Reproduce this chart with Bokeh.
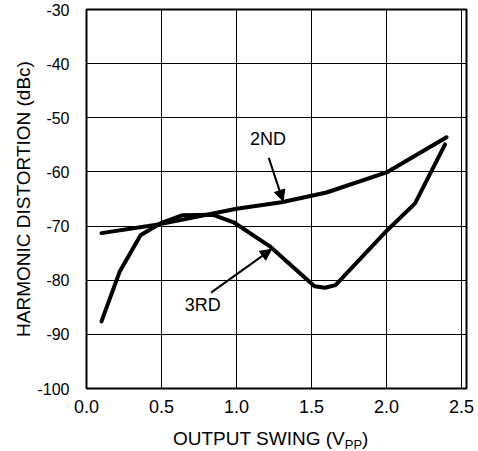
from bokeh.plotting import figure
from bokeh.layouts import column
from bokeh.models import (Range1d, FixedTicker, PrintfTickFormatter, Label, Arrow, NormalHead, Div)
from bokeh.embed import file_html
from bokeh.resources import INLINE

# Data
x_2nd = [0.1, 0.5, 1.0, 1.3, 1.6, 2.0, 2.4]
y_2nd = [-71.3, -69.6, -66.8, -65.6, -63.8, -60.1, -53.6]

x_3rd = [0.1, 0.22, 0.36, 0.5, 0.64, 0.84, 0.98, 1.22, 1.35, 1.52, 1.59, 1.66, 2.0, 2.19, 2.39]
y_3rd = [-87.6, -78.5, -71.7, -69.4, -68.0, -67.9, -69.3, -73.7, -76.9, -81.1, -81.4, -80.9, -70.9, -65.8, -54.9]

x_ticks = [0.0, 0.5, 1.0, 1.5, 2.0, 2.5]
y_ticks = [-100, -90, -80, -70, -60, -50, -40, -30]

FONT = "Liberation Sans"

p = figure(width=474, height=420, output_backend="svg", toolbar_location=None,
           x_range=Range1d(0, 2.533), y_range=Range1d(-100, -30),
           min_border_left=86, min_border_right=8, min_border_top=9, min_border_bottom=32)

p.outline_line_color = "black"
p.outline_line_width = 2
p.background_fill_color = "white"
p.border_fill_color = "white"

for ax in (p.xaxis[0], p.yaxis[0]):
    ax.axis_line_color = None
    ax.major_tick_line_color = None
    ax.minor_tick_line_color = None
    ax.major_label_text_font = FONT
    ax.major_label_text_color = "black"
    ax.axis_label_text_font = FONT
    ax.axis_label_text_font_size = "19px"
    ax.axis_label_text_font_style = "normal"
    ax.axis_label_text_color = "black"

p.xaxis.ticker = FixedTicker(ticks=x_ticks)
p.xaxis.formatter = PrintfTickFormatter(format="%.1f")
p.xaxis.major_label_text_font_size = "18px"
p.xaxis.major_label_standoff = 5
p.yaxis.ticker = FixedTicker(ticks=y_ticks)
p.yaxis.formatter = PrintfTickFormatter(format="%d")
p.yaxis.major_label_text_font_size = "16px"
p.yaxis.major_label_standoff = 11
p.yaxis.axis_label = "HARMONIC DISTORTION (dBc)"
p.yaxis.axis_label_standoff = 0

p.xgrid.ticker = FixedTicker(ticks=x_ticks)
p.ygrid.ticker = FixedTicker(ticks=y_ticks)
for g in (p.xgrid[0], p.ygrid[0]):
    g.grid_line_color = "black"
    g.grid_line_width = 1
    g.grid_line_alpha = 1

p.line(x_2nd, y_2nd, line_color="black", line_width=4, line_join="round", line_cap="round")
p.line(x_3rd, y_3rd, line_color="black", line_width=4, line_join="round", line_cap="round")

# annotations
p.add_layout(Label(x=1.21, y=-54.0, text="2ND", text_align="center", text_baseline="middle",
                   text_font=FONT, text_font_size="18px", text_color="black"))
p.add_layout(Arrow(x_start=1.215, y_start=-57.4, x_end=1.31, y_end=-65.4, line_width=2,
                   end=NormalHead(size=11, fill_color="black", line_color="black")))
p.add_layout(Label(x=0.775, y=-84.5, text="3RD", text_align="center", text_baseline="middle",
                   text_font=FONT, text_font_size="18px", text_color="black"))
p.add_layout(Arrow(x_start=0.83, y_start=-82.3, x_end=1.233, y_end=-74.3, line_width=2,
                   end=NormalHead(size=11, fill_color="black", line_color="black")))

# x axis label with subscript (HTML below the figure)
xlabel = Div(
    text='<div style="margin-left:168px; padding-top:3px; font-family:\'Liberation Sans\'; '
         'font-size:19px; color:black; white-space:nowrap; line-height:22px;">'
         'OUTPUT SWING (V<span style="font-size:13px; position:relative; top:4px; '
         'line-height:0;">PP</span>)</div>',
    width=474, height=31)

layout = column(p, xlabel, spacing=0)

open("out.html", "w").write(file_html(layout, INLINE))
